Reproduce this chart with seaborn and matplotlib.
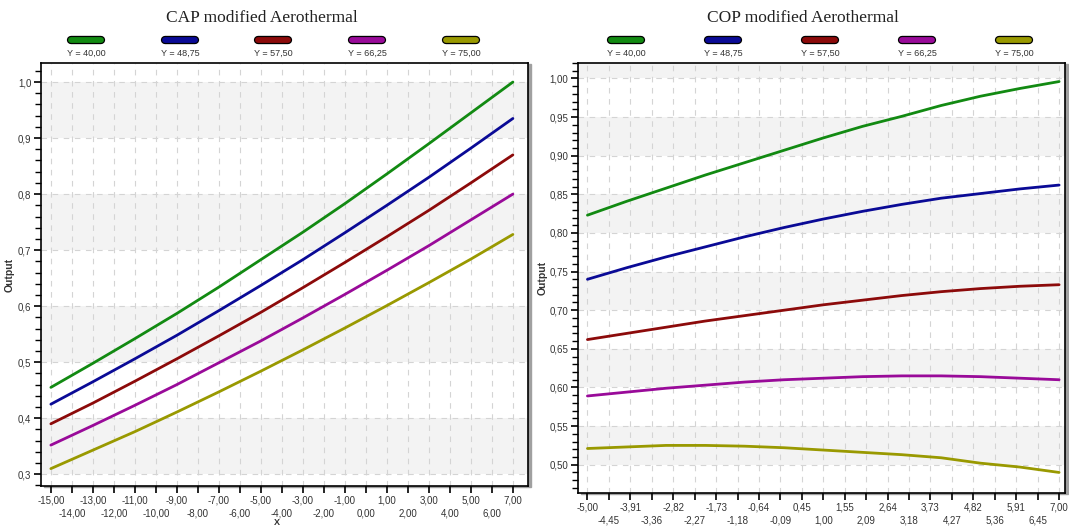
import numpy as np
import pandas as pd
import matplotlib
matplotlib.use("Agg")
import matplotlib.pyplot as plt
from matplotlib.lines import Line2D
from matplotlib.patches import Rectangle
from matplotlib.ticker import FuncFormatter, MultipleLocator, FixedLocator, FixedFormatter
import matplotlib.patheffects as pe
import seaborn as sns

sns.set_theme(style="white")
plt.rcParams["font.family"] = ["Liberation Sans", "DejaVu Sans"]

# ---- data -------------------------------------------------------------
series_labels = ["Y = 40,00", "Y = 48,75", "Y = 57,50", "Y = 66,25", "Y = 75,00"]
series_colors = ["#128a12", "#0a0a96", "#8c0a0a", "#990a99", "#999900"]

cap_x = [-15, -13, -11, -9, -7, -5, -3, -1, 1, 3, 5, 7]
cap_y40 = [0.455, 0.498, 0.542, 0.587, 0.634, 0.683, 0.732, 0.783, 0.836, 0.890, 0.945, 1.000]
cap_y4875 = [0.425, 0.465, 0.506, 0.548, 0.592, 0.637, 0.683, 0.731, 0.780, 0.830, 0.882, 0.935]
cap_y575 = [0.390, 0.427, 0.466, 0.506, 0.547, 0.589, 0.633, 0.678, 0.724, 0.771, 0.820, 0.870]
cap_y6625 = [0.352, 0.387, 0.423, 0.460, 0.499, 0.538, 0.579, 0.621, 0.664, 0.708, 0.754, 0.800]
cap_y75 = [0.310, 0.343, 0.376, 0.411, 0.447, 0.484, 0.522, 0.561, 0.601, 0.642, 0.684, 0.728]

cop_x = [-5, -4, -3, -2, -1, 0, 1, 2, 3, 4, 5, 6, 7]
cop_y40 = [0.823, 0.841, 0.858, 0.875, 0.891, 0.907, 0.923, 0.938, 0.951, 0.965, 0.977, 0.987, 0.996]
cop_y4875 = [0.740, 0.755, 0.769, 0.782, 0.795, 0.807, 0.818, 0.828, 0.837, 0.845, 0.851, 0.857, 0.862]
cop_y575 = [0.662, 0.670, 0.678, 0.686, 0.693, 0.700, 0.707, 0.713, 0.719, 0.724, 0.728, 0.731, 0.733]
cop_y6625 = [0.589, 0.594, 0.599, 0.603, 0.607, 0.610, 0.612, 0.614, 0.615, 0.615, 0.614, 0.612, 0.610]
cop_y75 = [0.521, 0.523, 0.525, 0.525, 0.524, 0.522, 0.519, 0.516, 0.513, 0.509, 0.502, 0.497, 0.490]

cap_ticks = list(range(-15, 8))
cop_ticks = list(np.linspace(-5, 7, 23))


def long_frame(x, columns):
    rows = []
    for lab, vals in zip(series_labels, columns):
        for xi, yi in zip(x, vals):
            rows.append({"X": xi, "Output": yi, "series": lab})
    return pd.DataFrame(rows)


cap_df = long_frame(cap_x, [cap_y40, cap_y4875, cap_y575, cap_y6625, cap_y75])
cop_df = long_frame(cop_x, [cop_y40, cop_y4875, cop_y575, cop_y6625, cop_y75])

# ---- figure -----------------------------------------------------------
W, H = 1069, 526
fig = plt.figure(figsize=(W / 100, H / 100), dpi=100)
fig.patch.set_facecolor("white")


def px_axes(l, t, r, b):
    return fig.add_axes([l / W, 1 - b / H, (r - l) / W, (b - t) / H])


ax1 = px_axes(41, 63, 528, 486)
ax2 = px_axes(578, 63, 1065, 493)

tick_col = "#333333"


def fmt_comma(t):
    return f"{t:.2f}".replace(".", ",")


def style_axes(ax, df, xlim, ylim, ticks, ymajor, yminor, yfmt, band_start, ylab_x):
    ax.set_facecolor("white")
    # alternating horizontal bands
    v = band_start
    while v < ylim[1]:
        ax.axhspan(v, v + ymajor, color="#f3f3f3", lw=0, zorder=0)
        v += 2 * ymajor
    sns.lineplot(data=df, x="X", y="Output", hue="series", palette=series_colors,
                 hue_order=series_labels, lw=2.0, legend=False, ax=ax, zorder=3)
    ax.set_xlim(*xlim)
    ax.set_ylim(*ylim)
    # staggered x labels: upper row on major ticks, lower row on minor ticks
    upper, lower = ticks[0::2], ticks[1::2]
    ax.xaxis.set_major_locator(FixedLocator(upper))
    ax.xaxis.set_major_formatter(FixedFormatter([fmt_comma(t) for t in upper]))
    ax.xaxis.set_minor_locator(FixedLocator(lower))
    ax.xaxis.set_minor_formatter(FixedFormatter([fmt_comma(t) for t in lower]))
    ax.yaxis.set_major_locator(MultipleLocator(ymajor))
    ax.yaxis.set_minor_locator(MultipleLocator(yminor))
    ax.yaxis.set_major_formatter(FuncFormatter(lambda y, p: yfmt.format(y).replace(".", ",")))
    ax.tick_params(axis="both", which="major", direction="out", length=5, width=1.2,
                   color="black", labelsize=7, labelcolor=tick_col, pad=2,
                   bottom=True, left=True)
    ax.tick_params(axis="x", which="minor", direction="out", length=5, width=1.2,
                   color="black", labelsize=7, labelcolor=tick_col, pad=11, bottom=True)
    ax.tick_params(axis="y", which="minor", direction="out", length=4, width=1.0,
                   color="black", left=True)
    ax.grid(True, which="both", axis="x", color="#d4d4d4", lw=0.8, ls=(0, (5, 5)), zorder=1)
    ax.grid(True, which="major", axis="y", color="#d4d4d4", lw=0.8, ls=(0, (5, 5)), zorder=1)
    ax.set_axisbelow(True)
    for s in ax.spines.values():
        s.set_color("black")
        s.set_linewidth(1.2)
    ax.set_xlabel("")
    ax.set_ylabel("Output", fontsize=7.5, fontweight="bold", color=tick_col)
    ax.yaxis.set_label_coords(ylab_x, 0.5)


style_axes(ax1, cap_df, (-15.47, 7.72), (0.279, 1.034), cap_ticks,
           0.1, 0.02, "{:.1f}", 0.3, (15 - 41) / 487)
style_axes(ax2, cop_df, (-5.24, 7.15), (0.4634, 1.020), cop_ticks,
           0.05, 0.01, "{:.2f}", 0.5, (548 - 578) / 487)

# drop shadow at the right of each frame
for l, t, r, b in [(41, 63, 528, 486), (578, 63, 1065, 493)]:
    fig.patches.append(Rectangle(((l + 3) / W, 1 - (b + 1) / H), (r - l) / W, (b - t) / H,
                                 transform=fig.transFigure, color="#a0a0a0", zorder=-1))

# titles
fig.text(262 / W, 1 - 18 / H, "CAP modified Aerothermal", ha="center", va="center",
         fontsize=12.5, family="Liberation Serif", color="#222222")
fig.text(803 / W, 1 - 18 / H, "COP modified Aerothermal", ha="center", va="center",
         fontsize=12.5, family="Liberation Serif", color="#222222")

# legends above each panel
legend_x = [[86, 180, 273, 367, 461], [626, 723, 820, 917, 1014]]
for xs in legend_x:
    for cx, col, lab in zip(xs, series_colors, series_labels):
        fig.add_artist(Line2D([(cx - 15) / W, (cx + 15) / W], [1 - 40 / H, 1 - 40 / H],
                              transform=fig.transFigure, color=col, lw=4.2,
                              solid_capstyle="round",
                              path_effects=[pe.Stroke(linewidth=6, foreground="black"),
                                            pe.Normal()]))
        fig.text(cx / W, 1 - 53 / H, lab, ha="center", va="center", fontsize=6.5,
                 color=tick_col)

# axis name under the left panel
fig.text(277 / W, 1 - 525 / H, "X", ha="center", va="baseline", fontsize=6.5,
         fontweight="bold", color=tick_col)

fig.savefig("out.png", dpi=100)
